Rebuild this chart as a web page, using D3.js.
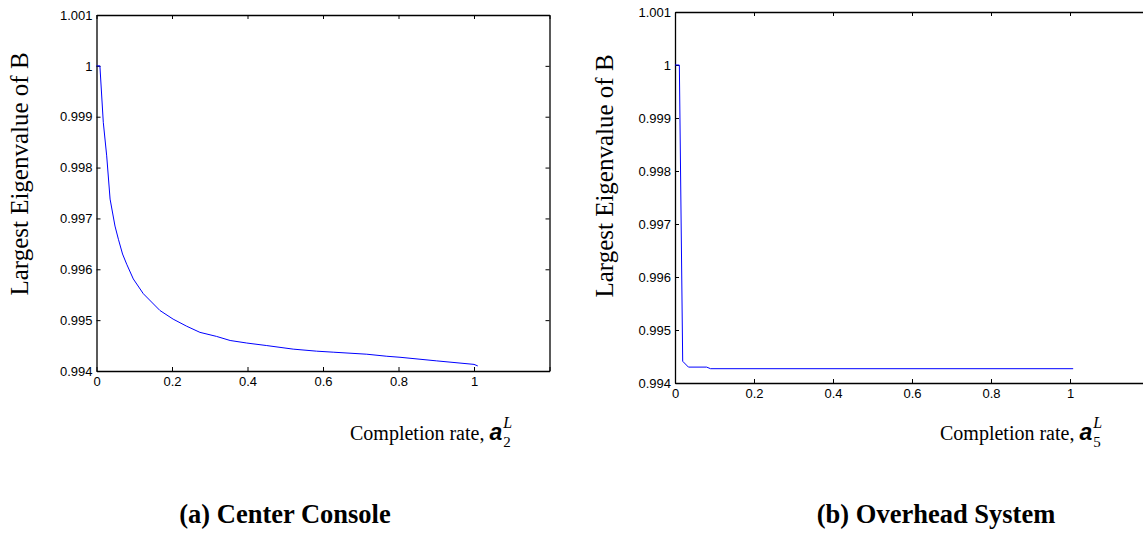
<!DOCTYPE html>
<html>
<head>
<meta charset="utf-8">
<script src="https://cdn.jsdelivr.net/npm/d3@7"></script>
<style>
  body { margin: 0; background: #fff; }
  svg { display: block; }
</style>
</head>
<body>
<svg id="chart" width="1143" height="533"></svg>
<script>
(function () {
    // values
    const xTicks = [0, 0.2, 0.4, 0.6, 0.8, 1, 1.2];
    const xTickLabels = ["0", "0.2", "0.4", "0.6", "0.8", "1", ""];
    const yTicks = [0.994, 0.995, 0.996, 0.997, 0.998, 0.999, 1, 1.001];
    const yTickLabels = ["0.994", "0.995", "0.996", "0.997", "0.998", "0.999", "1", "1.001"];

    // (a) center console
    const consoleX = [0, 0.009, 0.018, 0.027, 0.036, 0.049, 0.058, 0.069, 0.080, 0.0975, 0.124, 0.168,
        0.203, 0.239, 0.274, 0.318, 0.354, 0.398, 0.451, 0.521, 0.583, 0.627, 0.716, 0.769, 0.804,
        0.9, 1.0, 1.01];
    const consoleY = [1.0, 1.0, 0.99889, 0.99823, 0.99738, 0.99685, 0.99659, 0.99630, 0.99610, 0.99581,
        0.99552, 0.99519, 0.99502, 0.99488, 0.99476, 0.99468, 0.99460, 0.99455, 0.99450, 0.99443,
        0.99439, 0.99437, 0.99433, 0.99429, 0.99427, 0.99420, 0.99413, 0.99410];

    // (b) overhead system
    const overheadX = [0, 0.011, 0.0195, 0.034, 0.080, 0.090, 1.008];
    const overheadY = [1.0, 1.0, 0.99441, 0.99430, 0.99430, 0.99427, 0.99427];

    const panels = [
        { left: 96.5, right: 549.5, top: 15, bottom: 371, xs: consoleX, ys: consoleY,
          yLabelX: 28, yLabelY: 174, xLabelX: 350, xLabelY: 440, sub: "2",
          title: "(a) Center Console", titleX: 285 },
        { left: 675, right: 1149, top: 12, bottom: 383, xs: overheadX, ys: overheadY,
          yLabelX: 613, yLabelY: 176, xLabelX: 940, xLabelY: 440, sub: "5",
          title: "(b) Overhead System", titleX: 936 }
    ];

    const svg = d3.select("#chart");
    svg.append("rect").attr("width", 1143).attr("height", 533).attr("fill", "white");

    panels.forEach(function (p) {
        const x = d3.scaleLinear().domain([0, 1.2]).range([p.left, p.right]);
        const y = d3.scaleLinear().domain([0.994, 1.001]).range([p.bottom, p.top]);
        const g = svg.append("g");

        //axes, ticks pointing inwards like matlab
        const styleAxis = function (sel) {
            sel.select(".domain").attr("stroke", "black").attr("stroke-width", 1.3);
            sel.selectAll(".tick line").attr("stroke", "black");
            sel.selectAll("text").attr("fill", "black")
                .style("font-family", "'Liberation Sans', Arial, sans-serif").style("font-size", "13px");
        };

        g.append("g").attr("transform", "translate(0," + p.bottom + ")")
            .call(d3.axisBottom(x).tickValues(xTicks).tickSizeInner(-4).tickSizeOuter(0).tickPadding(6)
                .tickFormat((d, i) => xTickLabels[i]))
            .call(styleAxis);
        g.append("g").attr("transform", "translate(" + p.left + ",0)")
            .call(d3.axisLeft(y).tickValues(yTicks).tickSizeInner(-4).tickSizeOuter(0).tickPadding(4)
                .tickFormat((d, i) => yTickLabels[i]))
            .call(styleAxis);
        g.append("g").attr("transform", "translate(0," + p.top + ")")
            .call(d3.axisTop(x).tickValues(xTicks).tickSizeInner(-4).tickSizeOuter(0).tickFormat(""))
            .call(styleAxis);
        g.append("g").attr("transform", "translate(" + p.right + ",0)")
            .call(d3.axisRight(y).tickValues(yTicks).tickSizeInner(-4).tickSizeOuter(0).tickFormat(""))
            .call(styleAxis);

        //the curve
        const line = d3.line().x(d => x(d[0])).y(d => y(d[1]));
        g.append("path")
            .datum(p.xs.map((v, i) => [v, p.ys[i]]))
            .attr("d", line)
            .attr("fill", "none")
            .attr("stroke", "#0000ff")
            .attr("stroke-width", 1);

        //y label
        g.append("text")
            .attr("transform", "translate(" + p.yLabelX + "," + p.yLabelY + ") rotate(-90)")
            .attr("text-anchor", "middle")
            .style("font-family", "'Liberation Serif', 'Times New Roman', serif")
            .style("font-size", "25px")
            .text("Largest Eigenvalue of B");

        //x label with alpha_n^L
        const xl = g.append("text")
            .attr("x", p.xLabelX).attr("y", p.xLabelY)
            .style("font-family", "'Liberation Serif', 'Times New Roman', serif")
            .style("font-size", "20px");
        xl.append("tspan").text("Completion rate,  ");
        xl.append("tspan").text("a")
            .style("font-family", "'Liberation Sans', Arial, sans-serif")
            .style("font-weight", "bold").style("font-style", "italic").style("font-size", "23px");
        const endX = p.xLabelX + xl.node().getComputedTextLength();
        g.append("text").attr("x", endX + 1).attr("y", p.xLabelY + 7)
            .style("font-family", "'Liberation Serif', serif").style("font-size", "15px")
            .text(p.sub);
        g.append("text").attr("x", endX + 1).attr("y", p.xLabelY - 12)
            .style("font-family", "'Liberation Serif', serif").style("font-style", "italic")
            .style("font-size", "16px")
            .text("L");

        //panel caption
        g.append("text")
            .attr("x", p.titleX).attr("y", 523)
            .attr("text-anchor", "middle")
            .style("font-family", "'Liberation Serif', 'Times New Roman', serif")
            .style("font-weight", "bold")
            .style("font-size", "26.5px")
            .text(p.title);
    });
})();
</script>
</body>
</html>
